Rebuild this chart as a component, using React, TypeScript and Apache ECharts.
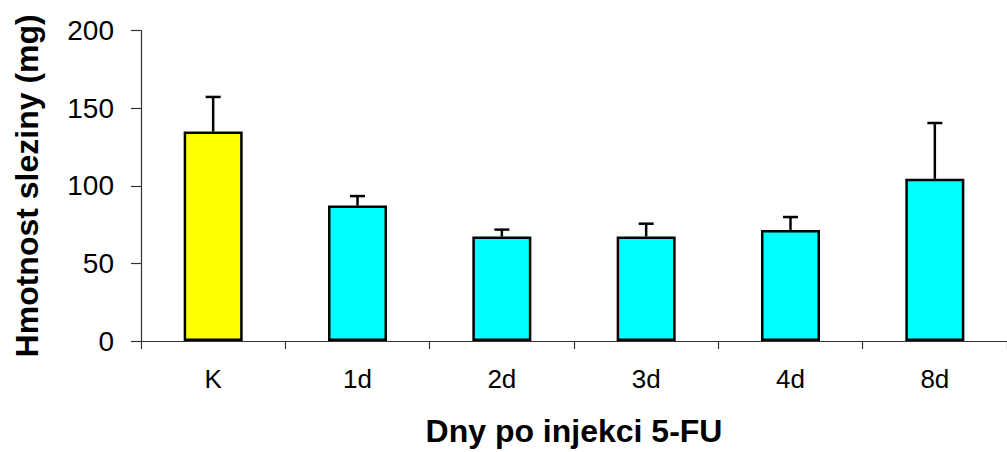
import React, { useEffect, useRef } from "react";
import * as echarts from "echarts";

const categories = ["K", "1d", "2d", "3d", "4d", "8d"];
const means = [135, 87.3, 67.3, 67.3, 71.6, 104.5];
const sdUpper = [22.3, 6.1, 4.5, 8.3, 8.3, 36];
const barColors = ["#FFFF00", "#00FFFF", "#00FFFF", "#00FFFF", "#00FFFF", "#00FFFF"];
const yTicks = [0, 50, 100, 150, 200];

const FONT = "'Liberation Sans', Arial, sans-serif";

export default function App() {
  const ref = useRef<HTMLDivElement>(null);
  useEffect(() => {
    document.body.style.margin = "0";
    if (!ref.current) return;
    const chart = echarts.init(ref.current, null, { renderer: "svg" });
    const errData = means.map((m, i) => [i, m, m + sdUpper[i]]);
    chart.setOption({
      animation: false,
      backgroundColor: "#ffffff",
      textStyle: { fontFamily: FONT },
      grid: { left: 141, right: -8, top: 30.7, bottom: 107.3, containLabel: false },
      xAxis: {
        type: "category",
        data: categories,
        boundaryGap: true,
        axisLine: { show: true, lineStyle: { color: "#333333", width: 1.2 } },
        axisTick: { show: true, length: 8, inside: false, alignWithLabel: false, lineStyle: { color: "#333333", width: 1.2 } },
        axisLabel: { color: "#000", fontSize: 26, margin: 25, fontFamily: FONT },
        name: "Dny po injekci 5-FU",
        nameLocation: "middle",
        nameGap: 74,
        nameTextStyle: { color: "#000", fontSize: 32, fontWeight: "bold", fontFamily: FONT },
      },
      yAxis: {
        type: "value",
        min: yTicks[0],
        max: yTicks[yTicks.length - 1],
        interval: 50,
        splitLine: { show: false },
        axisLine: { show: true, lineStyle: { color: "#333333", width: 1.2 } },
        axisTick: { show: true, length: 10, inside: false, lineStyle: { color: "#333333", width: 1.2 } },
        axisLabel: { color: "#000", fontSize: 28, margin: 27, fontFamily: FONT },
        name: "Hmotnost sleziny (mg)",
        nameLocation: "middle",
        nameGap: 98,
        nameTextStyle: { color: "#000", fontSize: 32, fontWeight: "bold", fontFamily: FONT },
      },
      series: [
        {
          type: "bar",
          barWidth: 59,
          data: means.map((v, i) => ({
            value: v,
            itemStyle: { color: barColors[i], borderColor: "#000", borderWidth: 2.5 },
          })),
          z: 2,
        },
        {
          type: "custom",
          z: 3,
          data: errData,
          renderItem: (params: any, api: any) => {
            const x = api.value(0);
            const lo = api.coord([x, api.value(1)]);
            const hi = api.coord([x, api.value(2)]);
            const half = 7.5;
            const style = { stroke: "#000", lineWidth: 2.5 };
            return {
              type: "group",
              children: [
                { type: "line", shape: { x1: lo[0], y1: lo[1], x2: hi[0], y2: hi[1] }, style },
                { type: "line", shape: { x1: hi[0] - half, y1: hi[1], x2: hi[0] + half, y2: hi[1] }, style },
              ],
            };
          },
        },
      ],
    });
    return () => chart.dispose();
  }, []);
  return <div ref={ref} style={{ width: 1007, height: 452 }} />;
}
